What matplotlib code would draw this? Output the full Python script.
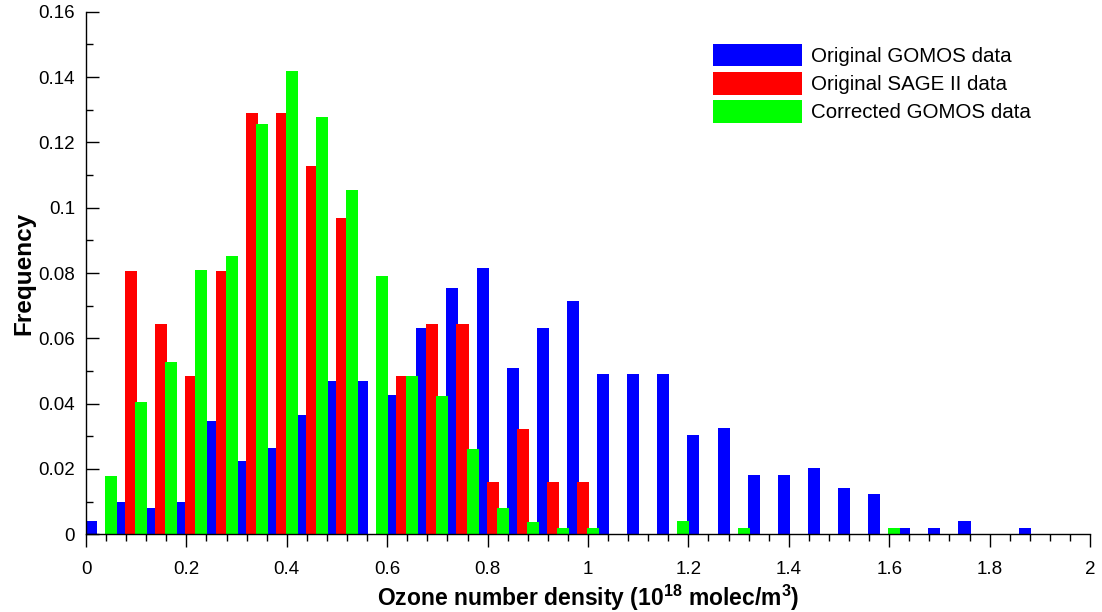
import numpy as np
import matplotlib.pyplot as plt
from matplotlib.ticker import MultipleLocator, FuncFormatter

plt.rcParams['font.family'] = ['Liberation Sans', 'DejaVu Sans']
plt.rcParams['mathtext.fontset'] = 'custom'
plt.rcParams['mathtext.rm'] = 'Liberation Sans'
plt.rcParams['mathtext.bf'] = 'Liberation Sans:bold'

# Bin centres: 0.06 wide groups, three series side by side
gomos_x = np.arange(0.01, 1.88, 0.06)
sage_x = gomos_x + 0.02
corr_x = gomos_x - 0.02

gomos = [0.004, 0.010, 0.008, 0.010, 0.0346, 0.0223, 0.0263, 0.0366,
         0.0468, 0.0469, 0.0428, 0.0631, 0.0755, 0.0815, 0.0509, 0.0631,
         0.0714, 0.049, 0.049, 0.049, 0.0304, 0.0324, 0.0182, 0.0182,
         0.0203, 0.0142, 0.0122, 0.002, 0.002, 0.004, 0.0, 0.002]
sage = [0.0, 0.0806, 0.0645, 0.0484, 0.0806, 0.129, 0.129, 0.1129,
        0.0968, 0.0, 0.0484, 0.0645, 0.0645, 0.0161, 0.0323, 0.0161,
        0.0161, 0, 0, 0, 0, 0, 0, 0, 0, 0, 0, 0, 0, 0, 0, 0]
corrected = [0.0, 0.018, 0.0404, 0.0526, 0.0809, 0.0851, 0.1256, 0.1419,
             0.1277, 0.1053, 0.079, 0.0486, 0.0424, 0.0262, 0.008, 0.0039,
             0.002, 0.002, 0.0, 0.0, 0.004, 0.0, 0.002, 0, 0, 0, 0,
             0.002, 0, 0, 0, 0]

W, H = 1102, 612
fig = plt.figure(figsize=(W/100, H/100), dpi=100)
ax = fig.add_axes([86/W, 1-534.3/H, (1090-86)/W, (534.3-11.7)/H])

bw = 0.024
ax.bar(gomos_x, gomos, width=bw, color='#0000ff', label='Original GOMOS data')
ax.bar(sage_x, sage, width=bw, color='#ff0000', label='Original SAGE II data')
ax.bar(corr_x, corrected, width=bw, color='#00ff00', label='Corrected GOMOS data')

ax.set_xlim(0, 2)
ax.set_ylim(0, 0.16)

for s in ['top', 'right']:
    ax.spines[s].set_visible(False)
for s in ['left', 'bottom']:
    ax.spines[s].set_linewidth(1.0)

fmt = FuncFormatter(lambda v, p: '%g' % round(v, 4))
ax.xaxis.set_major_locator(MultipleLocator(0.2))
ax.xaxis.set_minor_locator(MultipleLocator(0.04))
ax.yaxis.set_major_locator(MultipleLocator(0.02))
ax.yaxis.set_minor_locator(MultipleLocator(0.01))
ax.xaxis.set_major_formatter(fmt)
ax.yaxis.set_major_formatter(fmt)

ax.tick_params(axis='x', which='major', direction='out', length=9, width=1, labelsize=13.5, pad=10.5)
ax.tick_params(axis='x', which='minor', direction='out', length=5, width=1)
ax.tick_params(axis='y', which='major', direction='in', length=9.5, width=1, labelsize=13.5, pad=8)
ax.tick_params(axis='y', which='minor', direction='in', length=5, width=1)

ax.set_xlabel(r'Ozone number density (10$^{\mathbf{18}}$ molec/m$^{\mathbf{3}}$)',
              fontsize=16.5, fontweight='bold', labelpad=3)
ax.set_ylabel('Frequency', fontsize=17.5, fontweight='bold', labelpad=2)

ax.legend(loc='upper left', bbox_to_anchor=(712.7/W, 1-44/H), bbox_transform=fig.transFigure,
          frameon=False, fontsize=14.8, handlelength=4.35, handleheight=1.3,
          handletextpad=0.45, labelspacing=0.28, borderpad=0, borderaxespad=0)

fig.savefig('out.png', dpi=100)
